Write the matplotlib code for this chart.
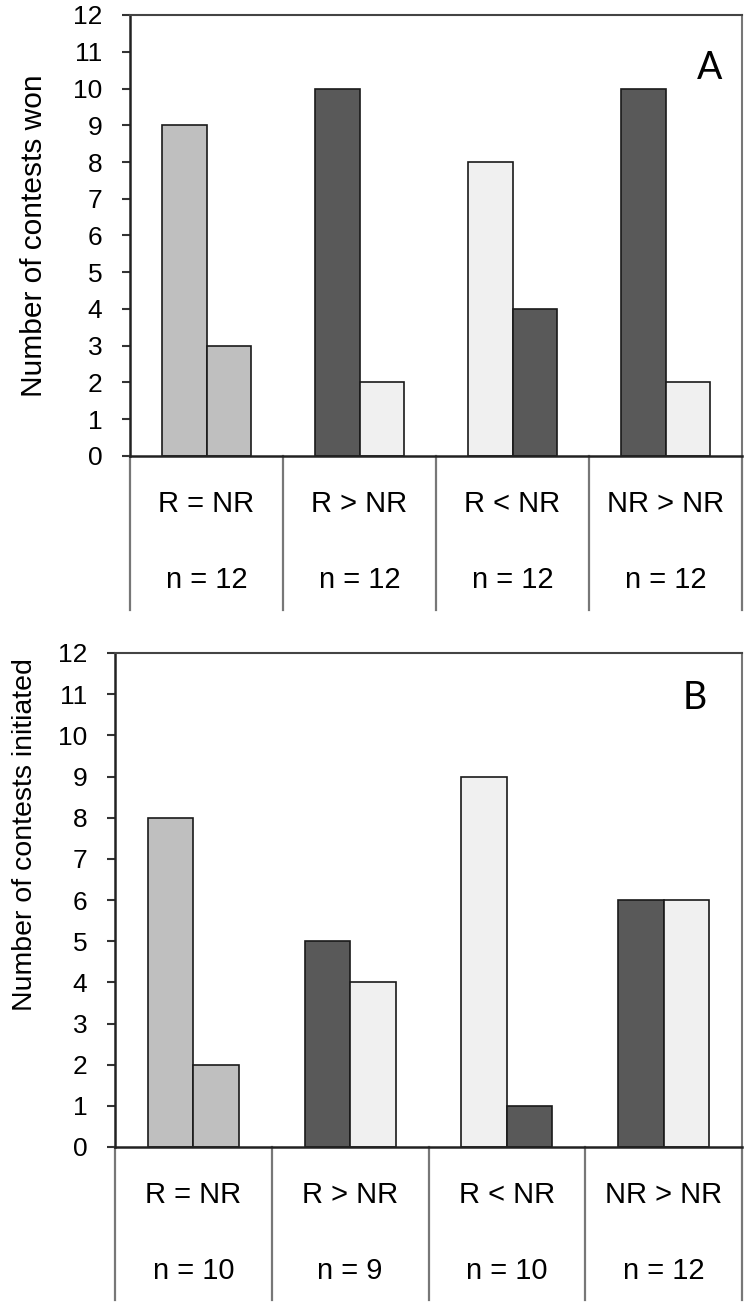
import matplotlib.pyplot as plt
import numpy as np

# data
categories = ['R = NR', 'R > NR', 'R < NR', 'NR > NR']
n_won = [12, 12, 12, 12]
n_init = [10, 9, 10, 12]
won_first = [9, 10, 8, 10]
won_second = [3, 2, 4, 2]
init_first = [8, 5, 9, 6]
init_second = [2, 4, 1, 6]

# bar colours per group (first bar, second bar)
grey, dark, light = '#bfbfbf', '#595959', '#f0f0f0'
first_colors = [grey, dark, light, dark]
second_colors = [grey, light, dark, light]

W, H = 752, 1309
fig = plt.figure(figsize=(W / 100, H / 100), dpi=100)
plt.rcParams['font.family'] = 'Liberation Sans'


def px_axes(left, top, right, bottom):
    return fig.add_axes([left / W, 1 - bottom / H, (right - left) / W, (bottom - top) / H])


def draw_panel(ax, first, second, ns, table_px, axis_px):
    x = np.arange(len(categories))
    bw = 0.29
    ax.bar(x - bw / 2, first, bw, color=first_colors, edgecolor='#1a1a1a', linewidth=1.2)
    ax.bar(x + bw / 2, second, bw, color=second_colors, edgecolor='#1a1a1a', linewidth=1.2)
    ax.set_xlim(-0.5, len(categories) - 0.5)
    ax.set_ylim(0, 12)
    ax.set_yticks(range(0, 13))
    ax.set_xticks([])
    ax.tick_params(axis='y', direction='out', length=6, width=1.5, labelsize=19, pad=14, color='#333333')
    for s in ['left', 'bottom']:
        ax.spines[s].set_linewidth(1.8)
        ax.spines[s].set_color('#222222')
    ax.spines['top'].set_linewidth(1.5)
    ax.spines['top'].set_color('#444444')
    ax.spines['right'].set_linewidth(1.5)
    ax.spines['right'].set_color('#777777')

    # category table under the axis
    depth = table_px / axis_px
    trans = ax.get_xaxis_transform()
    for b in np.arange(-0.5, len(categories), 1.0):
        ax.plot([b, b], [0, -depth], transform=trans, color='#777777', lw=1.6, clip_on=False)
    for i, (c, n) in enumerate(zip(categories, ns)):
        ax.text(i, -48 / axis_px, c, transform=trans, ha='center', va='center', fontsize=21)
        ax.text(i, -124 / axis_px, f'n = {n}', transform=trans, ha='center', va='center', fontsize=21)


axA = px_axes(130, 15, 742, 456)
draw_panel(axA, won_first, won_second, n_won, 154, 441)
axB = px_axes(115, 653, 742, 1147)
draw_panel(axB, init_first, init_second, n_init, 153, 494)

fig.text(34 / W, 1 - 236 / H, 'Number of contests won', rotation=90, ha='center', va='center', fontsize=21.5)
fig.text(25 / W, 1 - 835 / H, 'Number of contests initiated', rotation=90, ha='center', va='center', fontsize=20.5)

fig.text(710 / W, 1 - 68 / H, 'A', ha='center', va='center', fontsize=27, family='Lato')
fig.text(695 / W, 1 - 698 / H, 'B', ha='center', va='center', fontsize=27, family='Lato')

fig.savefig('out.png', dpi=100)
